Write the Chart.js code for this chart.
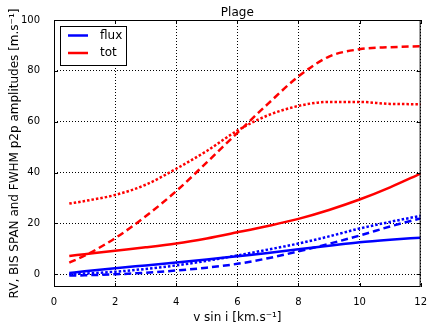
<!DOCTYPE html>
<html>
<head>
<meta charset="utf-8">
<script src="https://cdn.jsdelivr.net/npm/chart.js@4.4.1/dist/chart.umd.min.js"></script>
<style>
  html, body { margin: 0; padding: 0; background: #fff; }
  #wrap { width: 436px; height: 327px; }
</style>
</head>
<body>
<div id="wrap"><canvas id="plage"></canvas></div>
<script>
// v sin i sample points [km/s]
const vsini = [0.5, 1, 2, 3, 4, 5, 6, 7, 8, 9, 10, 11, 12];

// flux effect (blue)
const fluxRV = [0.5, 1.2, 2.4, 3.5, 4.6, 5.8, 7.1, 8.4, 9.8, 11.2, 12.6, 13.6, 14.4];
const fluxBIS = [0, 0.3, 1.0, 2.1, 3.5, 5.3, 7.4, 9.7, 12.1, 14.9, 18.0, 20.6, 23.0];
const fluxFWHM = [-0.5, -0.4, 0, 0.6, 1.5, 2.6, 4.1, 6.3, 9.0, 12.0, 15.2, 18.8, 22.0];

// total effect (red)
const totRV = [7.2, 7.9, 9.3, 10.6, 12.1, 14.1, 16.5, 19.0, 21.8, 25.3, 29.4, 34.2, 39.6];
const totBIS = [27.8, 28.8, 31.2, 35.2, 41.5, 48.5, 56.5, 62.5, 66.2, 67.8, 67.8, 67.0, 66.9];
const totFWHM = [4.6, 7.3, 14.2, 22.8, 32.7, 44.0, 55.6, 67.0, 77.8, 85.6, 88.5, 89.3, 89.7];

const xTicks = [0, 2, 4, 6, 8, 10, 12];
const yTicks = [0, 20, 40, 60, 80, 100];

const pts = (ys) => vsini.map((x, i) => ({ x: x, y: ys[i] }));

const BLUE = "#0000ff";
const RED = "#ff0000";
const DASH = [7, 4];
const DOT = [2.5, 2];

function series(label, ys, color, dash) {
  return {
    label: label,
    data: pts(ys),
    borderColor: color,
    borderWidth: 2.5,
    borderDash: dash,
    pointRadius: 0,
    fill: false,
    cubicInterpolationMode: "monotone",
  };
}

// frame, inward ticks, title and legend in matplotlib style
const decor = {
  id: "decor",
  afterDraw(chart) {
    const { ctx, chartArea: a, scales } = chart;
    ctx.save();
    ctx.strokeStyle = "#000";
    ctx.lineWidth = 1;
    ctx.setLineDash([]);
    ctx.strokeRect(a.left + 0.5, a.top + 0.5, a.right - a.left - 1, a.bottom - a.top - 1);

    ctx.beginPath();
    xTicks.forEach((t) => {
      const x = Math.round(scales.x.getPixelForValue(t)) + 0.5;
      ctx.moveTo(x, a.bottom); ctx.lineTo(x, a.bottom - 4);
      ctx.moveTo(x, a.top); ctx.lineTo(x, a.top + 4);
    });
    yTicks.forEach((t) => {
      const y = Math.round(scales.y.getPixelForValue(t)) + 0.5;
      ctx.moveTo(a.left, y); ctx.lineTo(a.left + 4, y);
      ctx.moveTo(a.right, y); ctx.lineTo(a.right - 4, y);
    });
    ctx.stroke();

    // title
    ctx.fillStyle = "#000";
    ctx.font = "12px 'DejaVu Sans'";
    ctx.textAlign = "center";
    ctx.textBaseline = "alphabetic";
    ctx.fillText("Plage", (a.left + a.right) / 2, a.top - 4);

    // legend
    const lx = a.left + 6, ly = a.top + 6;
    ctx.fillStyle = "#fff";
    ctx.fillRect(lx, ly, 66, 39);
    ctx.strokeRect(lx + 0.5, ly + 0.5, 66, 39);
    const items = [["flux", BLUE], ["tot", RED]];
    items.forEach(([name, col], i) => {
      const y = ly + 9.5 + i * 17.5;
      ctx.strokeStyle = col;
      ctx.lineWidth = 2.5;
      ctx.beginPath();
      ctx.moveTo(lx + 8, y); ctx.lineTo(lx + 28, y);
      ctx.stroke();
      ctx.fillStyle = "#000";
      ctx.font = "12px 'DejaVu Sans'";
      ctx.textAlign = "left";
      ctx.textBaseline = "middle";
      ctx.fillText(name, lx + 40, y);
    });
    ctx.restore();
  },
};

new Chart(document.getElementById("plage"), {
  type: "line",
  data: {
    datasets: [
      series("flux RV", fluxRV, BLUE, []),
      series("flux BIS", fluxBIS, BLUE, DOT),
      series("flux FWHM", fluxFWHM, BLUE, DASH),
      series("tot RV", totRV, RED, []),
      series("tot BIS", totBIS, RED, DOT),
      series("tot FWHM", totFWHM, RED, DASH),
    ],
  },
  options: {
    responsive: true,
    maintainAspectRatio: false,
    animation: false,
    layout: { padding: { top: 19, right: 8, left: 0, bottom: 0 } },
    plugins: {
      legend: { display: false },
      tooltip: { enabled: false },
    },
    scales: {
      x: {
        type: "linear",
        min: 0,
        max: 12,
        afterFit: (s) => { s.height = 40; },
        afterBuildTicks: (s) => { s.ticks = xTicks.map((v) => ({ value: v })); },
        ticks: { color: "#000", padding: 9, font: { family: "DejaVu Sans", size: 10 }, maxRotation: 0 },
        grid: { color: "#000", lineWidth: 1, drawTicks: false },
        border: { display: false, dash: [1, 2] },
        title: {
          display: true,
          text: "v sin i [km.s\u207B\u00B9]",
          color: "#000",
          font: { family: "DejaVu Sans", size: 12 },
          padding: { top: 0, bottom: 2 },
        },
      },
      y: {
        min: -5,
        max: 100,
        afterFit: (s) => { s.width = 54; },
        afterBuildTicks: (s) => { s.ticks = yTicks.map((v) => ({ value: v })); },
        ticks: { color: "#000", padding: 14, font: { family: "DejaVu Sans", size: 10 } },
        grid: { color: "#000", lineWidth: 1, drawTicks: false },
        border: { display: false, dash: [1, 2] },
        title: {
          display: true,
          text: "RV, BIS SPAN and FWHM p2p amplitudes [m.s\u207B\u00B9]",
          color: "#000",
          font: { family: "DejaVu Sans", size: 12 },
          padding: { top: 8, bottom: 0 },
        },
      },
    },
  },
  plugins: [decor],
});
</script>
</body>
</html>
